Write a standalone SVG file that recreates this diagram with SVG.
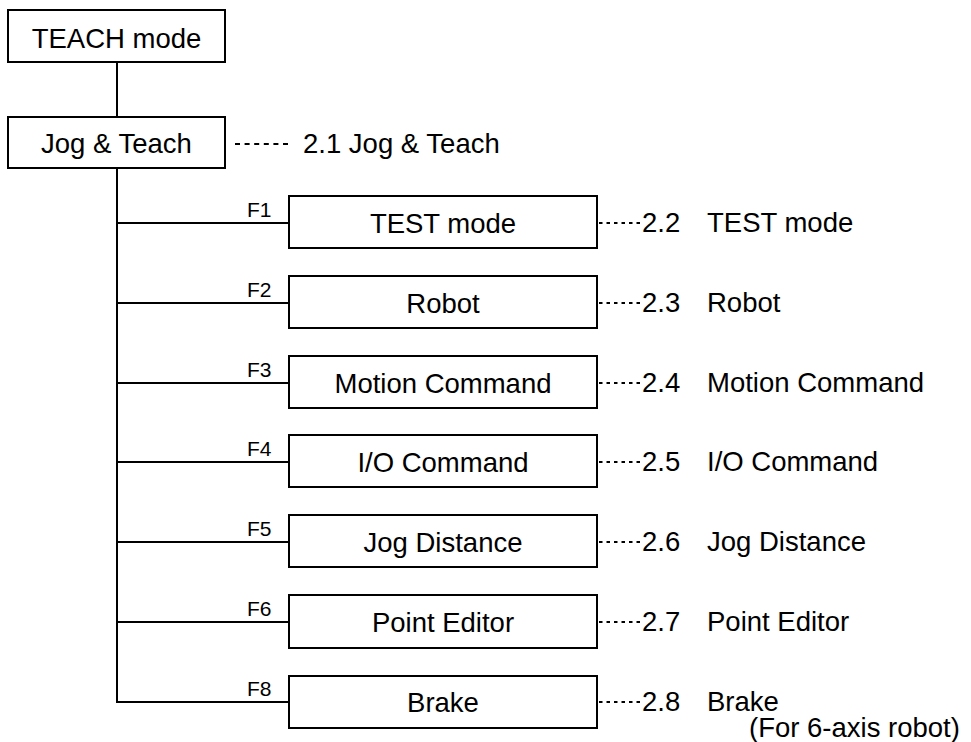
<svg xmlns="http://www.w3.org/2000/svg" width="971" height="742" viewBox="0 0 971 742">
<style>
.box{fill:#fff;stroke:#000;stroke-width:2}
.ln{stroke:#000;stroke-width:2;fill:none}
.dash{stroke:#000;stroke-width:1.8;stroke-dasharray:3.5 4;fill:none}
.dash2{stroke:#000;stroke-width:1.8;stroke-dasharray:5 4.6;fill:none}
text{font-family:"Liberation Sans",Arial,sans-serif;fill:#000}
.t{font-size:27.5px}
.c{text-anchor:middle}
.f{font-size:21px}
</style>
<rect width="971" height="742" fill="#fff"/>
<g id="connectors">
<line class="ln" x1="117" y1="62" x2="117" y2="117"/>
<line class="ln" x1="117" y1="168" x2="117" y2="703"/>
<line class="ln" x1="116" y1="223" x2="289" y2="223"/>
<line class="ln" x1="116" y1="303" x2="289" y2="303"/>
<line class="ln" x1="116" y1="383" x2="289" y2="383"/>
<line class="ln" x1="116" y1="462" x2="289" y2="462"/>
<line class="ln" x1="116" y1="542" x2="289" y2="542"/>
<line class="ln" x1="116" y1="622" x2="289" y2="622"/>
<line class="ln" x1="116" y1="702" x2="289" y2="702"/>
<line class="dash2" x1="235" y1="144" x2="289" y2="144"/>
<line class="dash" x1="599" y1="223" x2="641" y2="223"/>
<line class="dash" x1="599" y1="303" x2="641" y2="303"/>
<line class="dash" x1="599" y1="383" x2="641" y2="383"/>
<line class="dash" x1="599" y1="462" x2="641" y2="462"/>
<line class="dash" x1="599" y1="542" x2="641" y2="542"/>
<line class="dash" x1="599" y1="622" x2="641" y2="622"/>
<line class="dash" x1="599" y1="702" x2="641" y2="702"/>
</g>
<g id="teach-mode">
<rect class="box" x="8" y="10" width="217" height="52"/>
<text class="t c" x="116.5" y="48">TEACH mode</text>
</g>
<g id="jog-teach">
<rect class="box" x="8" y="117" width="217" height="51"/>
<text class="t c" x="116.5" y="153">Jog &amp; Teach</text>
</g>
<g id="ref-2-1"><text class="t" x="303" y="153">2.1 Jog &amp; Teach</text></g>
<g id="test-mode">
<text class="f" x="247" y="217">F1</text>
<rect class="box" x="289" y="196" width="308" height="52"/>
<text class="t c" x="443" y="232.5">TEST mode</text>
<text class="t" x="642" y="232">2.2</text><text class="t" x="707" y="232">TEST mode</text>
</g>
<g id="robot">
<text class="f" x="247" y="297">F2</text>
<rect class="box" x="289" y="276" width="308" height="52"/>
<text class="t c" x="443" y="312.5">Robot</text>
<text class="t" x="642" y="312">2.3</text><text class="t" x="707" y="312">Robot</text>
</g>
<g id="motion-command">
<text class="f" x="247" y="377">F3</text>
<rect class="box" x="289" y="356" width="308" height="52"/>
<text class="t c" x="443" y="392.5">Motion Command</text>
<text class="t" x="642" y="392">2.4</text><text class="t" x="707" y="392">Motion Command</text>
</g>
<g id="io-command">
<text class="f" x="247" y="456">F4</text>
<rect class="box" x="289" y="435" width="308" height="52"/>
<text class="t c" x="443" y="471.5">I/O Command</text>
<text class="t" x="642" y="471">2.5</text><text class="t" x="707" y="471">I/O Command</text>
</g>
<g id="jog-distance">
<text class="f" x="247" y="536">F5</text>
<rect class="box" x="289" y="515" width="308" height="52"/>
<text class="t c" x="443" y="551.5">Jog Distance</text>
<text class="t" x="642" y="551">2.6</text><text class="t" x="707" y="551">Jog Distance</text>
</g>
<g id="point-editor">
<text class="f" x="247" y="616">F6</text>
<rect class="box" x="289" y="595" width="308" height="53"/>
<text class="t c" x="443" y="631.5">Point Editor</text>
<text class="t" x="642" y="631">2.7</text><text class="t" x="707" y="631">Point Editor</text>
</g>
<g id="brake">
<text class="f" x="247" y="696">F8</text>
<rect class="box" x="289" y="676" width="308" height="52"/>
<text class="t c" x="443" y="711.5">Brake</text>
<text class="t" x="642" y="711">2.8</text><text class="t" x="707" y="711">Brake</text>
<text class="t" x="749" y="737">(For 6-axis robot)</text>
</g>
</svg>
